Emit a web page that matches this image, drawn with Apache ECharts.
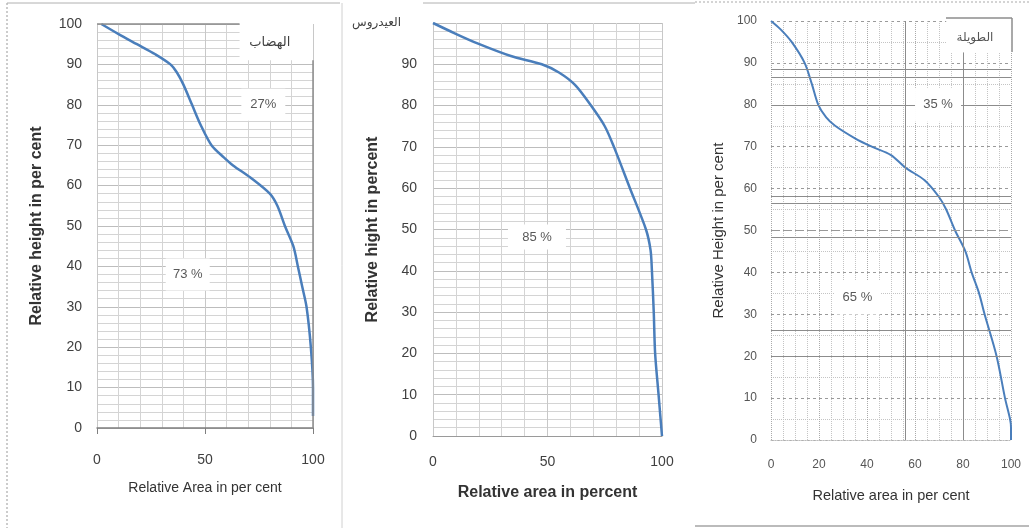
<!DOCTYPE html>
<html><head><meta charset="utf-8">
<script src="https://cdn.jsdelivr.net/npm/echarts@6/dist/echarts.min.js"></script>
<style>html,body{margin:0;padding:0;background:#fff}#c{width:1029px;height:528px}</style>
</head><body><div id="c"></div>
<script>
// Panel 1 (الهضاب)
const area1   = [2, 10, 18.5, 27, 34, 37, 40, 44, 48, 53, 58.7, 63, 71, 80, 83.5, 87, 90.9, 93, 95, 97, 99, 100, 100];
const height1 = [100, 97.5, 95, 92.5, 90, 88, 85, 80, 75, 70, 67, 65, 62, 58, 55, 50, 45, 40, 35, 30, 20, 10, 3];
// Panel 2 (العيدروس)
const area2   = [0, 9.5, 19.7, 34, 47.5, 55, 62, 69, 75, 79, 86, 93, 95, 95.6, 96.4, 97, 98.5, 100];
const height2 = [100, 97.5, 95, 92, 90, 88, 85, 80, 75, 70, 60, 50, 45, 40, 30, 20, 10, 0];
// Panel 3 (الطويلة)
const area3   = [0, 4, 8.6, 14, 17, 19.7, 23, 26.7, 35, 42, 50, 56, 64, 70, 73, 76.7, 81, 83.6, 86.7, 89, 94, 97.5, 99.6, 100, 100];
const height3 = [100, 98, 95, 90, 85, 80, 77, 75, 72, 70, 68, 65, 62, 58, 55, 50, 45, 40, 35, 30, 20, 10, 5, 3, 0];

const titles = ['الهضاب', 'العيدروس', 'الطويلة'];
const xNames = ['Relative Area in per cent', 'Relative area in percent', 'Relative area in per cent'];
const yNames = ['Relative height in per cent', 'Relative hight in percent', 'Relative Height in per cent'];
const notes1 = [{t:'27%', x:77, y:80}, {t:'73 %', x:42, y:38}];
const notes2 = [{t:'85 %', x:45.4, y:48.2}];
const notes3 = [{t:'35 %', x:69.6, y:80}, {t:'65 %', x:36, y:34}];

const pairs = (xs, ys) => xs.map((v, i) => [v, ys[i]]);
const blue = '#4a7ebb';
const FONT = 'Liberation Sans, Arial, sans-serif';

function noteMarks(notes, w, h) {
  return notes.map(n => ({
    coord: [n.x, n.y], symbol: 'rect', symbolSize: [w, h],
    itemStyle: {color: '#fff'},
    label: {show: true, position: 'inside', formatter: n.t, color: '#595959', fontSize: 13, fontFamily: FONT}
  }));
}

const chart = echarts.init(document.getElementById('c'), null, {renderer: 'canvas'});
const option = {
  animation: false,
  backgroundColor: '#fff',
  grid: [
    {left: 97, right: 1029 - 313, top: 24, bottom: 528 - 428, outerBoundsMode: 'none'},
    {left: 433, right: 1029 - 662, top: 23, bottom: 528 - 436, outerBoundsMode: 'none'},
    {left: 771, right: 1029 - 1011, top: 21, bottom: 528 - 440, outerBoundsMode: 'none'}
  ],
  xAxis: [
    {gridIndex: 0, type: 'value', min: 0, max: 100, interval: 50,
     name: xNames[0], nameLocation: 'middle', nameGap: 53, nameMoveOverlap: false,
     nameTextStyle: {fontSize: 14, color: '#333', fontFamily: FONT},
     axisLine: {show: true, lineStyle: {color: '#7f7f7f', width: 1.5}},
     axisTick: {show: true, length: 6, lineStyle: {color: '#7f7f7f'}},
     axisLabel: {margin: 25, fontSize: 14, color: '#404040', fontFamily: FONT},
     splitLine: {show: true, lineStyle: {color: '#c8c8c8'}},
     minorTick: {show: false, splitNumber: 5},
     minorSplitLine: {show: true, lineStyle: {color: '#d4d4d4'}}},
    {gridIndex: 1, type: 'value', min: 0, max: 100, interval: 50,
     name: xNames[1], nameLocation: 'middle', nameGap: 49, nameMoveOverlap: false,
     nameTextStyle: {fontSize: 16, fontWeight: 'bold', color: '#333', fontFamily: FONT},
     axisLine: {show: true, lineStyle: {color: '#9a9a9a'}},
     axisTick: {show: false},
     axisLabel: {margin: 19, fontSize: 14, color: '#404040', fontFamily: FONT},
     splitLine: {show: true, lineStyle: {color: '#c8c8c8'}},
     minorTick: {show: false, splitNumber: 5},
     minorSplitLine: {show: true, lineStyle: {color: '#d4d4d4'}}},
    {gridIndex: 2, type: 'value', min: 0, max: 100, interval: 20,
     name: xNames[2], nameLocation: 'middle', nameGap: 48, nameMoveOverlap: false,
     nameTextStyle: {fontSize: 14.5, color: '#333', fontFamily: FONT},
     axisLine: {show: true, lineStyle: {color: '#bbb', type: 'dotted'}},
     axisTick: {show: false},
     axisLabel: {margin: 19, fontSize: 12, color: '#555', fontFamily: FONT},
     splitLine: {show: true, lineStyle: {color: '#aaa', type: 'dotted'}},
     minorTick: {show: false, splitNumber: 4},
     minorSplitLine: {show: true, lineStyle: {color: '#c4c4c4', type: 'dotted'}}}
  ],
  yAxis: [
    {gridIndex: 0, type: 'value', min: 0, max: 100, interval: 10,
     name: yNames[0], nameLocation: 'middle', nameGap: 52, nameRotate: 90, nameMoveOverlap: false,
     nameTextStyle: {fontSize: 16, fontWeight: 'bold', color: '#333', fontFamily: FONT},
     axisLine: {show: false}, axisTick: {show: false},
     axisLabel: {margin: 15, fontSize: 14, color: '#404040', fontFamily: FONT},
     splitLine: {show: true, lineStyle: {color: '#bdbdbd'}},
     minorTick: {show: false, splitNumber: 5},
     minorSplitLine: {show: true, lineStyle: {color: '#d4d4d4'}}},
    {gridIndex: 1, type: 'value', min: 0, max: 100, interval: 10,
     name: yNames[1], nameLocation: 'middle', nameGap: 52, nameRotate: 90, nameMoveOverlap: false,
     nameTextStyle: {fontSize: 16, fontWeight: 'bold', color: '#333', fontFamily: FONT},
     axisLine: {show: false}, axisTick: {show: false},
     axisLabel: {margin: 16, fontSize: 14, color: '#404040', fontFamily: FONT,
       formatter: v => v === 100 ? '{ar|' + titles[1] + '}' : String(v),
       rich: {ar: {fontSize: 12, color: '#404040', fontFamily: 'DejaVu Sans', padding: [0, 16, 0, 0]}}},
     splitLine: {show: true, lineStyle: {color: '#bdbdbd'}},
     minorTick: {show: false, splitNumber: 5},
     minorSplitLine: {show: true, lineStyle: {color: '#d4d4d4'}}},
    {gridIndex: 2, type: 'value', min: 0, max: 100, interval: 10,
     name: yNames[2], nameLocation: 'middle', nameGap: 45, nameRotate: 90, nameMoveOverlap: false,
     nameTextStyle: {fontSize: 15, color: '#333', fontFamily: FONT},
     axisLine: {show: false}, axisTick: {show: false},
     axisLabel: {margin: 14, fontSize: 12, color: '#555', fontFamily: FONT},
     splitLine: {show: true, lineStyle: {color: '#9a9a9a', type: [3, 3]}},
     minorTick: {show: false, splitNumber: 2},
     minorSplitLine: {show: true, lineStyle: {color: '#c4c4c4', type: 'dotted'}}}
  ],
  series: [
    {type: 'line', xAxisIndex: 0, yAxisIndex: 0, data: pairs(area1, height1),
     smooth: 0.3, showSymbol: false, lineStyle: {color: blue, width: 2.5}, itemStyle: {color: blue},
     markArea: {silent: true, itemStyle: {color: '#fff', opacity: 1}, data: [[{coord: [66, 91]}, {coord: [100, 100]}]]},
     markLine: {silent: true, symbol: 'none', label: {show: false},
       lineStyle: {color: '#8c8c8c', type: 'solid', width: 1.5},
       data: [[{coord: [0, 100]}, {coord: [66, 100]}], [{coord: [100, 0]}, {coord: [100, 91]}]]},
     markPoint: {silent: true, data: noteMarks(notes1, 44, 32).concat([{
       coord: [80, 95.5], symbol: 'rect', symbolSize: [1, 1], itemStyle: {color: '#fff'},
       label: {show: true, position: 'inside', formatter: titles[0], color: '#404040', fontSize: 13, fontFamily: 'DejaVu Sans'}}])}},
    {type: 'line', xAxisIndex: 1, yAxisIndex: 1, data: pairs(area2, height2),
     smooth: 0.3, showSymbol: false, lineStyle: {color: blue, width: 2.5}, itemStyle: {color: blue},
     markPoint: {silent: true, data: noteMarks(notes2, 58, 25)}},
    {type: 'line', xAxisIndex: 2, yAxisIndex: 2, data: pairs(area3, height3),
     smooth: 0.3, showSymbol: false, lineStyle: {color: blue, width: 2}, itemStyle: {color: blue},
     markArea: {silent: true, itemStyle: {color: '#fff', opacity: 1}, data: [[{coord: [73, 92.5]}, {coord: [100, 100]}]]},
     markLine: {silent: true, symbol: 'none', label: {show: false},
       lineStyle: {color: '#8c8c8c', type: 'solid', width: 1},
       data: [{xAxis: 56}, [{coord: [80, 0]}, {coord: [80, 92.5]}], {yAxis: 88.4}, {yAxis: 86.6}, {yAxis: 80}, {yAxis: 58.2},
              {yAxis: 56.4}, {yAxis: 48.5}, {yAxis: 26.2}, {yAxis: 20},
              {yAxis: 50, lineStyle: {type: [8, 4], color: '#999'}}]},
     markPoint: {silent: true, data: noteMarks(notes3, 46, 34).concat([{
       coord: [85, 96], symbol: 'rect', symbolSize: [1, 1], itemStyle: {color: '#fff'},
       label: {show: true, position: 'inside', formatter: titles[2], color: '#555', fontSize: 12, fontFamily: 'DejaVu Sans'}}])}}
  ],
  graphic: [
    {type: 'line', shape: {x1: 7, y1: 3, x2: 7, y2: 528}, style: {stroke: '#999', lineDash: [2, 2], lineWidth: 1}},
    {type: 'line', shape: {x1: 7, y1: 3, x2: 340, y2: 3}, style: {stroke: '#b0b0b0', lineWidth: 1}},
    {type: 'line', shape: {x1: 342, y1: 3, x2: 342, y2: 528}, style: {stroke: '#d0d0d0', lineWidth: 1}},
    {type: 'line', shape: {x1: 423, y1: 3, x2: 695, y2: 3}, style: {stroke: '#b0b0b0', lineWidth: 1}},
    {type: 'line', shape: {x1: 695, y1: 2, x2: 1029, y2: 2}, style: {stroke: '#aaa', lineDash: [2, 2], lineWidth: 1}},
    {type: 'line', shape: {x1: 695, y1: 526, x2: 1029, y2: 526}, style: {stroke: '#bbb', lineWidth: 2}},
    {type: 'line', shape: {x1: 946, y1: 18, x2: 1012, y2: 18}, style: {stroke: '#8c8c8c', lineWidth: 1.5}},
    {type: 'line', shape: {x1: 1012, y1: 18, x2: 1012, y2: 52}, style: {stroke: '#8c8c8c', lineWidth: 1.5}}
  ]
};
chart.setOption(option);
</script>
</body></html>
